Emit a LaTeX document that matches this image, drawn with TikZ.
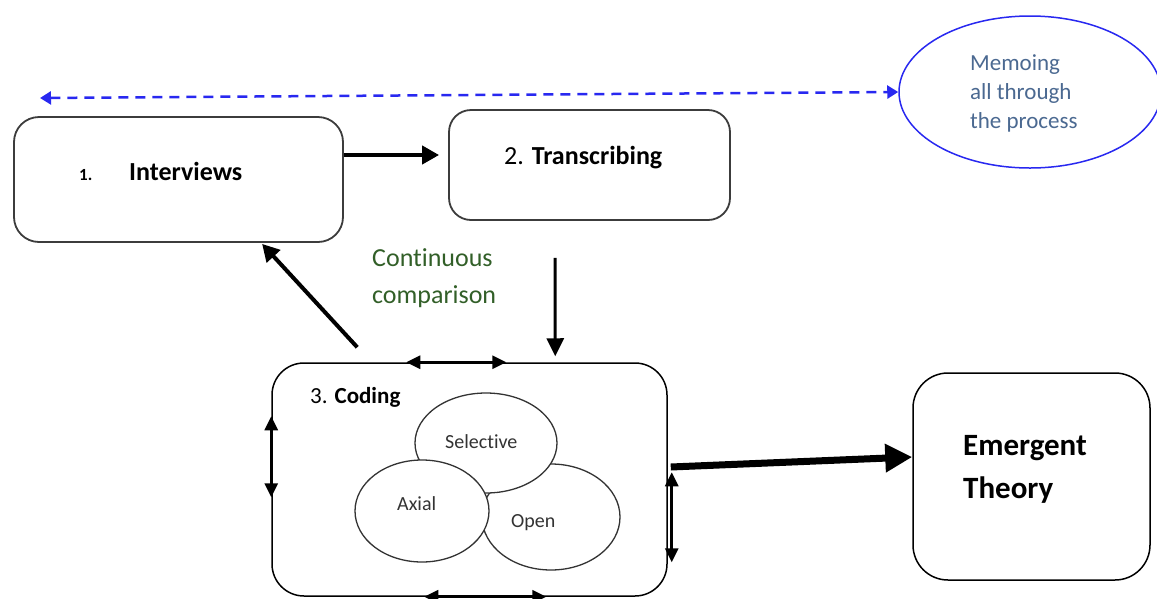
\documentclass[tikz,border=0pt]{standalone}
\usepackage{fontspec}
\setmainfont{Carlito}[Ligatures=NoCommon]
\usetikzlibrary{arrows.meta,shapes.geometric,calc}

\definecolor{memoblue}{RGB}{40,40,240}
\definecolor{memotext}{RGB}{75,105,145}
\definecolor{compgreen}{RGB}{50,95,40}
\definecolor{boxgray}{RGB}{60,60,60}

\newcommand\setpx[2]{\fontsize{#1pt}{#2pt}\selectfont}

\begin{document}
\begin{tikzpicture}[x=1pt,y=-1pt,
  stagebox/.style={draw=boxgray, line width=1.8pt, fill=white, inner sep=0pt},
  codebox/.style={draw=black, line width=1.5pt, fill=white, inner sep=0pt},
  codecirc/.style={ellipse, draw=black!80, line width=1.3pt, fill=white, inner sep=0pt},
  lbl/.style={inner sep=0pt, anchor=base west},
  flow/.style={-{Triangle[length=17pt,width=18pt]}, line width=4pt},
  downflow/.style={-{Triangle[length=18pt,width=17pt]}, line width=3pt},
  bigflow/.style={-{Triangle[length=27pt,width=27pt]}, line width=7pt},
  twoway/.style={{Triangle[length=14pt,width=13pt]}-{Triangle[length=14pt,width=13pt]}, line width=3pt},
  memoline/.style={{Triangle[length=11pt,width=13pt]}-{Triangle[length=11pt,width=13pt]},
    draw=memoblue, line width=2.5pt, dash pattern=on 10pt off 7pt}
]
\clip (0,0) rectangle (1157,598);

% stage boxes
\node[stagebox, rounded corners=25pt, minimum width=329pt, minimum height=125pt] (int) at (178.5,179.5) {};
\node[stagebox, rounded corners=22pt, minimum width=281pt, minimum height=110pt] (trans) at (589.5,165) {};
\node[codebox, rounded corners=32pt, minimum width=395pt, minimum height=233pt] (cod) at (469.5,479.5) {};
\node[codebox, rounded corners=35pt, minimum width=237pt, minimum height=207pt] (emer) at (1031.5,476.5) {};

% memo bubble
\node[ellipse, draw=memoblue, line width=1.5pt, fill=white, inner sep=0pt,
      minimum width=262pt, minimum height=152pt] (memo) at (1030,92) {};

% the three coding kinds
\node[codecirc, minimum width=138pt, minimum height=106pt] (open) at (551,517) {};
\node[codecirc, minimum width=142pt, minimum height=100pt] (sel) at (486,443) {};
\node[codecirc, minimum width=134pt, minimum height=102pt] (axial) at (422,511) {};

% labels
\node[lbl, font=\setpx{17}{20}\bfseries] (t1) at (79,180) {1.};
\node[lbl, font=\setpx{26}{31}\bfseries] (tint) at (129,180) {Interviews};
\node[lbl, font=\setpx{26}{31}] (ttrans) at (504,164) {2. \textbf{Transcribing}};
\node[lbl, font=\setpx{23}{28}] (tcod) at (310,403) {3. \textbf{Coding}};
\node[lbl, font=\setpx{20}{24}, text=black!80] (tsel) at (445,448) {Selective};
\node[lbl, font=\setpx{20}{24}, text=black!80] (tax) at (397,510) {Axial};
\node[lbl, font=\setpx{20}{24}, text=black!80] (topen) at (511,527) {Open};
\node[lbl, font=\setpx{31}{36}\bfseries] (tem1) at (963,455) {Emergent};
\node[lbl, font=\setpx{31}{36}\bfseries] (tem2) at (963,498) {Theory};
\node[lbl, font=\setpx{26}{31}, text=compgreen] (tcc1) at (372,266) {Continuous};
\node[lbl, font=\setpx{26}{31}, text=compgreen] (tcc2) at (372,303) {comparison};
\node[lbl, font=\setpx{23}{28}, text=memotext] (tm1) at (970,70) {Memoing};
\node[lbl, font=\setpx{23}{28}, text=memotext] (tm2) at (970,99) {all through};
\node[lbl, font=\setpx{23}{28}, text=memotext] (tm3) at (970,128) {the process};

% connectors
\coordinate (memoend) at (40,98);
\draw[memoline] (memoend) -- (memo.west);
\draw[flow] ([yshift=24.5pt]int.east) -- ([xshift=-9pt,yshift=10pt]trans.west);
\draw[downflow] ($(trans.south west)+(107,37)$) -- ($(cod.north west)+(284,-6)$);
\draw[flow] ($(cod.north west)+(86,-15)$) -- ($(int.south west)+(249,1)$);
\draw[bigflow] ([xshift=3pt,yshift=12.5pt]cod.east) -- ([yshift=19.5pt]emer.west);

% continuous comparison around the coding stage
\draw[twoway] ($(cod.north west)+(135,0)$) -- ($(cod.north west)+(235,0)$);
\draw[twoway] ($(cod.north west)+(0,54)$) -- ($(cod.north west)+(0,135)$);
\draw[twoway] ($(cod.north east)+(4,110)$) -- ($(cod.north east)+(4,200)$);
\draw[twoway] ($(cod.south west)+(153,0)$) -- ($(cod.south west)+(275,0)$);
\end{tikzpicture}
\end{document}
